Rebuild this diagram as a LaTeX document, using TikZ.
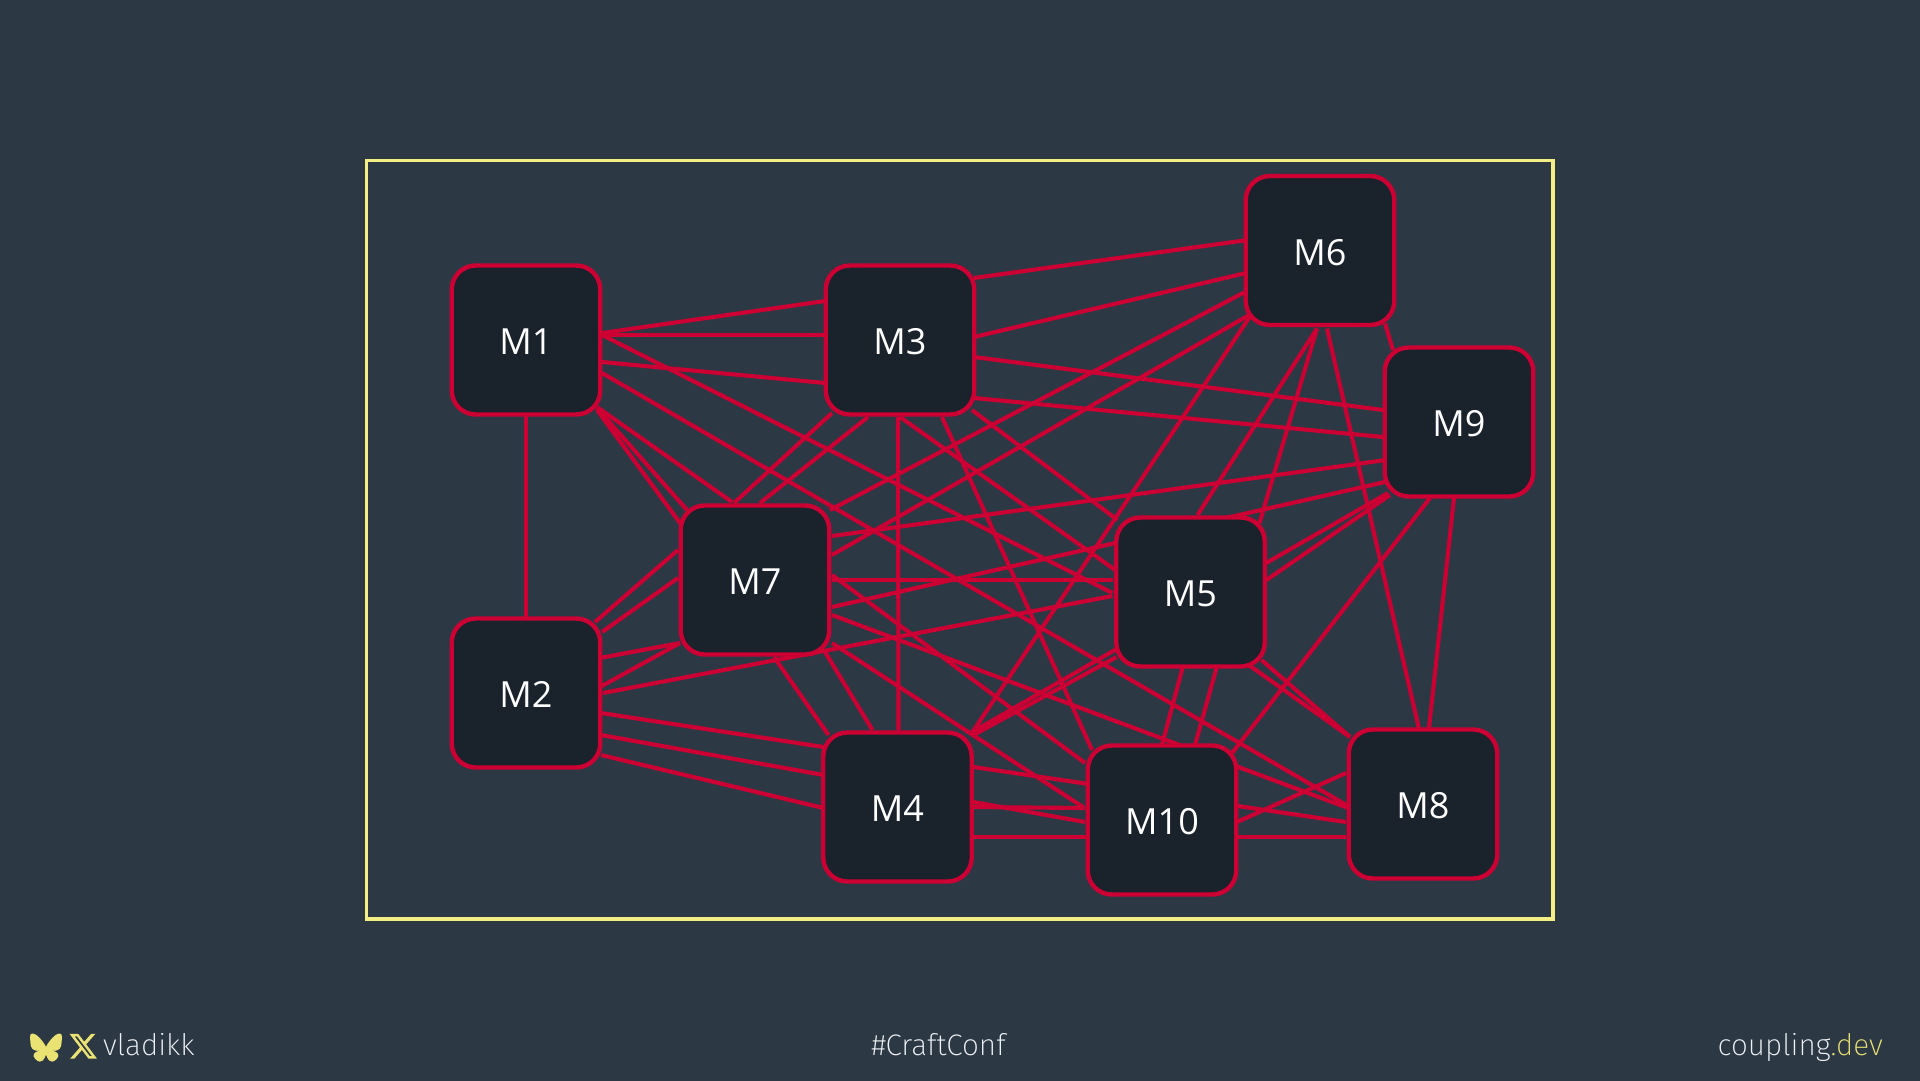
\documentclass[tikz,border=0pt]{standalone}
\usepackage{fontspec}
\setmainfont{Open Sans}
\newfontfamily\footfont{Fira Sans ExtraLight}
\definecolor{slidebg}{HTML}{2D3845}
\definecolor{boxfill}{HTML}{1A222C}
\definecolor{linkred}{HTML}{CC0033}
\definecolor{frameyellow}{HTML}{F4EE85}
\definecolor{icony}{HTML}{EAE272}
\definecolor{foottext}{HTML}{EEF2F6}
\pgfdeclarelayer{canvas}
\pgfdeclarelayer{links}
\pgfsetlayers{canvas,links,main}
\tikzset{
  module/.style={draw=linkred,fill=boxfill,line width=4.4pt,rounded corners=24pt,
    minimum width=148.5pt,minimum height=149pt,inner sep=0pt,text=white,
    text height=29pt,text depth=0pt,
    font=\fontsize{36}{36}\selectfont},
  link/.style={draw=linkred,line width=4.1pt},
  foot/.style={inner sep=0pt,text=foottext,font=\footfont\fontsize{29.7}{30}\selectfont}
}
\newcommand{\lnk}[6]{\draw[link] ([shift={(#2,#3)}]#1.center) -- ([shift={(#5,#6)}]#4.center);}
\begin{document}
\begin{tikzpicture}[x=1pt,y=-1pt]
\useasboundingbox (0,0) rectangle (1920,1080);
\begin{pgfonlayer}{canvas}
\fill[slidebg] (-5,-5) rectangle (1925,1085);
\end{pgfonlayer}
\draw[frameyellow,line width=3.9pt] (366.5,160.5) rectangle (1553,919);
\node[module] (M1) at (526,340) {M1};
\node[module] (M2) at (526,693) {M2};
\node[module] (M3) at (900,340) {M3};
\node[module] (M4) at (897.5,807) {M4};
\node[module] (M5) at (1190.5,592) {M5};
\node[module] (M6) at (1320,250.5) {M6};
\node[module] (M7) at (755,580) {M7};
\node[module] (M8) at (1423,804) {M8};
\node[module] (M9) at (1459,422) {M9};
\node[module] (M10) at (1162,820) {M10};
\begin{pgfonlayer}{links}
\lnk{M1}{76}{-7}{M3}{-75}{-39}
\lnk{M1}{76}{-5}{M3}{-75}{-5}
\lnk{M1}{76}{22}{M3}{-75}{43}
\lnk{M1}{76}{-5}{M5}{-78}{1}
\lnk{M1}{76}{33}{M8}{-75}{2}
\lnk{M1}{71}{67}{M7}{-23}{-78}
\lnk{M1}{71}{68}{M7}{-68}{-70}
\lnk{M1}{71}{70}{M7}{-75}{-57}
\lnk{M1}{0}{76}{M2}{0}{-76}
\lnk{M2}{69}{-71}{M7}{-77}{-30}
\lnk{M2}{76}{-61}{M7}{-77}{-2}
\lnk{M2}{74}{-35}{M7}{-75}{63}
\lnk{M2}{74}{-6}{M7}{-75}{63}
\lnk{M2}{77}{0}{M5}{-78}{4}
\lnk{M2}{75}{20}{M4}{-74}{-60}
\lnk{M2}{75}{42}{M4}{-74}{-32}
\lnk{M2}{75}{62}{M4}{-74}{1}
\lnk{M3}{-68}{73}{M7}{-21}{-77}
\lnk{M3}{-32}{77}{M7}{5}{-77}
\lnk{M3}{-2}{77}{M4}{1}{-77}
\lnk{M3}{0}{77}{M8}{-73}{-67}
\lnk{M3}{42}{77}{M10}{-70}{-70}
\lnk{M3}{72}{70}{M5}{-73}{-72}
\lnk{M3}{74}{-62}{M6}{-76}{-10}
\lnk{M3}{74}{-3}{M6}{-76}{23}
\lnk{M3}{74}{17}{M9}{-76}{-12}
\lnk{M3}{74}{58}{M9}{-76}{15}
\lnk{M6}{-76}{42}{M7}{75}{-70}
\lnk{M6}{-70}{64}{M7}{77}{-25}
\lnk{M6}{-70}{66}{M4}{73}{-72}
\lnk{M6}{-3}{78}{M5}{7}{-77}
\lnk{M6}{-3}{78}{M5}{69}{-69}
\lnk{M6}{7}{78}{M8}{-4}{-75}
\lnk{M6}{65}{73}{M9}{-66}{-72}
\lnk{M7}{77}{-44}{M9}{-73}{38}
\lnk{M7}{77}{27}{M9}{-74}{60}
\lnk{M7}{77}{0}{M5}{-78}{-12}
\lnk{M7}{77}{-5}{M10}{-77}{-57}
\lnk{M7}{77}{63}{M10}{-79}{-13}
\lnk{M7}{77}{35}{M8}{-75}{4}
\lnk{M7}{70}{72}{M4}{-25}{-77}
\lnk{M7}{19}{77}{M4}{-69}{-72}
\lnk{M4}{73}{-74}{M9}{-71}{71}
\lnk{M4}{76}{-72}{M5}{-74}{65}
\lnk{M4}{76}{-40}{M8}{-77}{18}
\lnk{M4}{76}{30}{M8}{-77}{33}
\lnk{M4}{76}{-5}{M10}{-77}{2}
\lnk{M4}{76}{0}{M10}{-77}{-12}
\lnk{M5}{76}{-12}{M9}{-69}{73}
\lnk{M5}{-8}{76}{M10}{0}{-75}
\lnk{M5}{26}{76}{M10}{33}{-75}
\lnk{M5}{71}{68}{M8}{-73}{-67}
\lnk{M9}{-29}{76}{M10}{70}{-67}
\lnk{M9}{-5}{76}{M8}{6}{-76}
\lnk{M10}{75}{2}{M8}{-77}{-31}
\end{pgfonlayer}
% butterfly icon
\fill[icony,shift={(30,1033.5)},scale=0.0563]
 (123.1,33.7) .. controls (188.2,82.6) and (258.3,181.7) .. (284,234.9)
 .. controls (309.7,181.7) and (379.8,82.6) .. (444.9,33.7)
 .. controls (491.9,-1.6) and (568,-28.9) .. (568,57.9)
 .. controls (568,75.3) and (558.1,203.7) .. (552.2,224.5)
 .. controls (531.9,297) and (458.1,315.4) .. (392.3,304.2)
 .. controls (507.2,323.8) and (536.4,388.6) .. (473.3,453.3)
 .. controls (353.5,576.3) and (301.1,422.5) .. (287.6,383)
 -- (284,375.3) -- (280.4,383)
 .. controls (266.9,422.5) and (214.5,576.3) .. (94.7,453.3)
 .. controls (31.6,388.6) and (60.8,323.8) .. (175.7,304.2)
 .. controls (110,315.4) and (36.1,297) .. (15.8,224.5)
 .. controls (9.9,203.7) and (0,75.3) .. (0,57.9)
 .. controls (0,-28.9) and (76.1,-1.6) .. (123.1,33.7) -- cycle;
% X icon
\fill[icony,even odd rule,shift={(68,1031)},scale=1.27]
 (18.244,2.25) -- (21.552,2.25) -- (14.325,10.51) -- (22.827,21.75) -- (16.17,21.75)
 -- (10.956,14.933) -- (4.99,21.75) -- (1.68,21.75) -- (9.41,12.915) -- (1.254,2.25)
 -- (8.08,2.25) -- (12.793,8.481) -- cycle
 (17.083,19.77) -- (18.916,19.77) -- (7.084,4.126) -- (5.117,4.126) -- cycle;
\node[foot,anchor=base west] (handle) at (103,1055) {vladikk};
\node[foot,anchor=base] (tag) at (938.5,1055) {\#CraftConf};
\node[foot,anchor=base east] (site) at (1883,1055) {coupling\textcolor{icony}{.dev}};
\end{tikzpicture}
\end{document}
